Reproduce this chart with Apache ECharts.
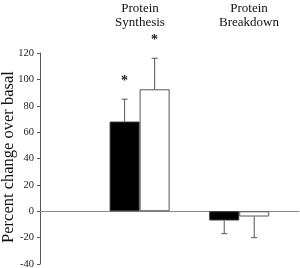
<!DOCTYPE html>
<html><head><meta charset="utf-8">
<script src="https://cdn.jsdelivr.net/npm/echarts@6/dist/echarts.min.js"></script>
<style>html,body{margin:0;padding:0;background:#fff}#c{width:300px;height:268px}</style>
</head><body><div id="c"></div>
<script>
var categories = ['Protein\nSynthesis', 'Protein\nBreakdown'];
var catPos = [1, 2];
var blackValues = [68, -7];
var blackErrors = [17, 10];
var whiteValues = [92.5, -4];
var whiteErrors = [23.5, 16];
var blackStars = ['*', ''];
var whiteStars = ['*', ''];
var yTicks = { min: -40, max: 120, interval: 20 };
var yTitle = 'Percent change over basal';

var chart = echarts.init(document.getElementById('c'), null, {renderer: 'canvas'});
var serif = 'Liberation Serif';
var lineCol = '#555';

function errData(vals, errs, stars, side) {
  return vals.map(function (v, i) { return [catPos[i], v, errs[i], side, stars[i]]; });
}
function renderErr(params, api) {
  var x = api.value(0), v = api.value(1), e = api.value(2), side = api.value(3);
  var star = api.value(4);
  var p0 = api.coord([x, v]);
  var dir = v >= 0 ? 1 : -1;
  var p1 = api.coord([x, v + dir * e]);
  var px = p0[0] + side * 15;
  var children = [
    {type: 'line', shape: {x1: px, y1: p0[1], x2: px, y2: p1[1]}, style: {stroke: lineCol, lineWidth: 1}},
    {type: 'line', shape: {x1: px - 3, y1: p1[1], x2: px + 3, y2: p1[1]}, style: {stroke: lineCol, lineWidth: 1}}
  ];
  if (star) {
    children.push({type: 'text', style: {text: star, x: px, y: p1[1] - 18, align: 'center', verticalAlign: 'middle', font: 'bold 14px ' + serif, fill: '#222'}});
  }
  return {type: 'group', children: children};
}

var graphics = categories.map(function (c, i) {
  return {type: 'text', x: [140, 249][i], y: 2, style: {text: c, font: '13px ' + serif, fill: '#111', align: 'center', lineHeight: 14}};
});
graphics.push({type: 'text', x: 9, y: 157, rotation: Math.PI / 2,
  style: {text: yTitle, font: '16.5px ' + serif, fill: '#111', align: 'center', verticalAlign: 'middle'}});

chart.setOption({
  animation: false,
  grid: {left: 40, right: 1, top: 53, bottom: 4, containLabel: false, outerBoundsMode: 'none'},
  xAxis: {type: 'value', min: 0, max: 2.6, axisLabel: {show: false}, axisTick: {show: false}, splitLine: {show: false},
    axisLine: {onZero: true, lineStyle: {color: '#888', width: 1}}},
  yAxis: {type: 'value', min: yTicks.min, max: yTicks.max, interval: yTicks.interval,
    axisLine: {show: true, lineStyle: {color: lineCol}}, axisTick: {show: true, length: 3, lineStyle: {color: lineCol}},
    axisLabel: {fontFamily: serif, fontSize: 10.5, color: '#222', margin: 6},
    splitLine: {show: false}},
  graphic: graphics,
  series: [
    {type: 'bar', data: blackValues.map(function (v, i) { return [catPos[i], v]; }), barWidth: 30, barGap: '0%',
      itemStyle: {color: '#000', borderColor: '#333', borderWidth: 1}},
    {type: 'bar', data: whiteValues.map(function (v, i) { return [catPos[i], v]; }), barWidth: 30, barGap: '0%',
      itemStyle: {color: '#fff', borderColor: lineCol, borderWidth: 1}},
    {type: 'custom', renderItem: renderErr, data: errData(blackValues, blackErrors, blackStars, -1), z: 5},
    {type: 'custom', renderItem: renderErr, data: errData(whiteValues, whiteErrors, whiteStars, 1), z: 5}
  ]
});
</script></body></html>
